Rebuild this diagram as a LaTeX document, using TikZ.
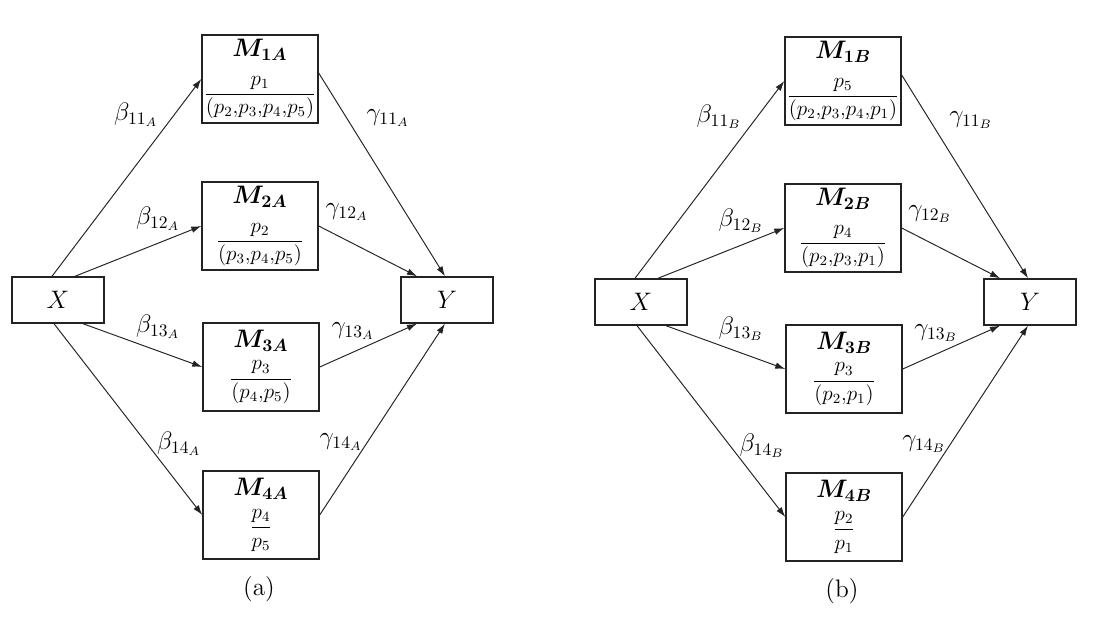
\documentclass[tikz,border=0pt]{standalone}
\usepackage{amsmath}
\usepackage{bm}
\usetikzlibrary{arrows.meta,calc}
\definecolor{boxline}{RGB}{35,35,35}

\begin{document}
\begin{tikzpicture}[
  x=0.2mm, y=-0.2mm, >={Latex[length=2mm,width=1.3mm]},
  med/.style={draw=boxline, line width=0.8pt, minimum width=23.2mm, minimum height=17.6mm,
              align=center, font=\large, inner sep=1pt},
  var/.style={draw=boxline, line width=0.8pt, minimum width=18.4mm, minimum height=9.2mm,
              font=\Large},
  coef/.style={font=\Large, inner sep=0pt},
  arr/.style={draw=boxline, line width=0.55pt, ->}]
\useasboundingbox (0,0) rectangle (1099,642);

% panel (a)
\begin{scope}
\node[var] (Xa) at (58,300) {$X$};
\node[var] (Ya) at (447,300) {$Y$};
\node[med] (M1a) at (260,79) {{\Large$\bm{M_{1A}}$}\\[8pt] $\dfrac{p_1}{(p_2{,}p_3{,}p_4{,}p_5)}$};
\node[med] (M2a) at (260,226) {{\Large$\bm{M_{2A}}$}\\[8pt] $\dfrac{p_2}{(p_3{,}p_4{,}p_5)}$};
\node[med] (M3a) at (261,367) {{\Large$\bm{M_{3A}}$}\\[4.5pt] $\dfrac{p_3}{(p_4{,}p_5)}$};
\node[med] (M4a) at (261,515) {{\Large$\bm{M_{4A}}$}\\[4.5pt] $\dfrac{p_4}{p_5}$};
\draw[arr] ($(Xa.north)+(-6,0)$) -- (M1a.west);
\draw[arr] ($(Xa.north)+(17,0)$) -- (M2a.west);
\draw[arr] ($(Xa.south)+(25,0)$) -- (M3a.west);
\draw[arr] ($(Xa.south)+(-4,0)$) -- (M4a.west);
\draw[arr] ($(M1a.east)+(0,-6)$) -- ($(Ya.north)+(-2,0)$);
\draw[arr] (M2a.east) -- ($(Ya.north)+(-30,0)$);
\draw[arr] (M3a.east) -- ($(Ya.south)+(-30,0)$);
\draw[arr] (M4a.east) -- ($(Ya.south)+(-2,0)$);
\node[coef] (b11a) at (136,115) {$\beta_{11_A}$};
\node[coef] (b12a) at (158,219) {$\beta_{12_A}$};
\node[coef] (b13a) at (158,327) {$\beta_{13_A}$};
\node[coef] (b14a) at (179,444) {$\beta_{14_A}$};
\node[coef] (g11a) at (388,118) {$\gamma_{11_A}$};
\node[coef] (g12a) at (347,212) {$\gamma_{12_A}$};
\node[coef] (g13a) at (353,331) {$\gamma_{13_A}$};
\node[coef] (g14a) at (341,442) {$\gamma_{14_A}$};
\node[font=\Large] (capa) at (259,589) {(a)};
\end{scope}

% panel (b)
\begin{scope}[shift={(583,2)}]
\node[var] (Xb) at (58,300) {$X$};
\node[var] (Yb) at (447,300) {$Y$};
\node[med] (M1b) at (260,79) {{\Large$\bm{M_{1B}}$}\\[8pt] $\dfrac{p_5}{(p_2{,}p_3{,}p_4{,}p_1)}$};
\node[med] (M2b) at (260,226) {{\Large$\bm{M_{2B}}$}\\[8pt] $\dfrac{p_4}{(p_2{,}p_3{,}p_1)}$};
\node[med] (M3b) at (261,367) {{\Large$\bm{M_{3B}}$}\\[4.5pt] $\dfrac{p_3}{(p_2{,}p_1)}$};
\node[med] (M4b) at (261,515) {{\Large$\bm{M_{4B}}$}\\[4.5pt] $\dfrac{p_2}{p_1}$};
\draw[arr] ($(Xb.north)+(-6,0)$) -- (M1b.west);
\draw[arr] ($(Xb.north)+(17,0)$) -- (M2b.west);
\draw[arr] ($(Xb.south)+(25,0)$) -- (M3b.west);
\draw[arr] ($(Xb.south)+(-4,0)$) -- (M4b.west);
\draw[arr] ($(M1b.east)+(0,-6)$) -- ($(Yb.north)+(-2,0)$);
\draw[arr] (M2b.east) -- ($(Yb.north)+(-30,0)$);
\draw[arr] (M3b.east) -- ($(Yb.south)+(-30,0)$);
\draw[arr] (M4b.east) -- ($(Yb.south)+(-2,0)$);
\node[coef] (b11b) at (136,115) {$\beta_{11_B}$};
\node[coef] (b12b) at (158,219) {$\beta_{12_B}$};
\node[coef] (b13b) at (158,327) {$\beta_{13_B}$};
\node[coef] (b14b) at (179,444) {$\beta_{14_B}$};
\node[coef] (g11b) at (388,118) {$\gamma_{11_B}$};
\node[coef] (g12b) at (347,212) {$\gamma_{12_B}$};
\node[coef] (g13b) at (353,331) {$\gamma_{13_B}$};
\node[coef] (g14b) at (341,442) {$\gamma_{14_B}$};
\node[font=\Large] (capb) at (259,589) {(b)};
\end{scope}
\end{tikzpicture}
\end{document}
